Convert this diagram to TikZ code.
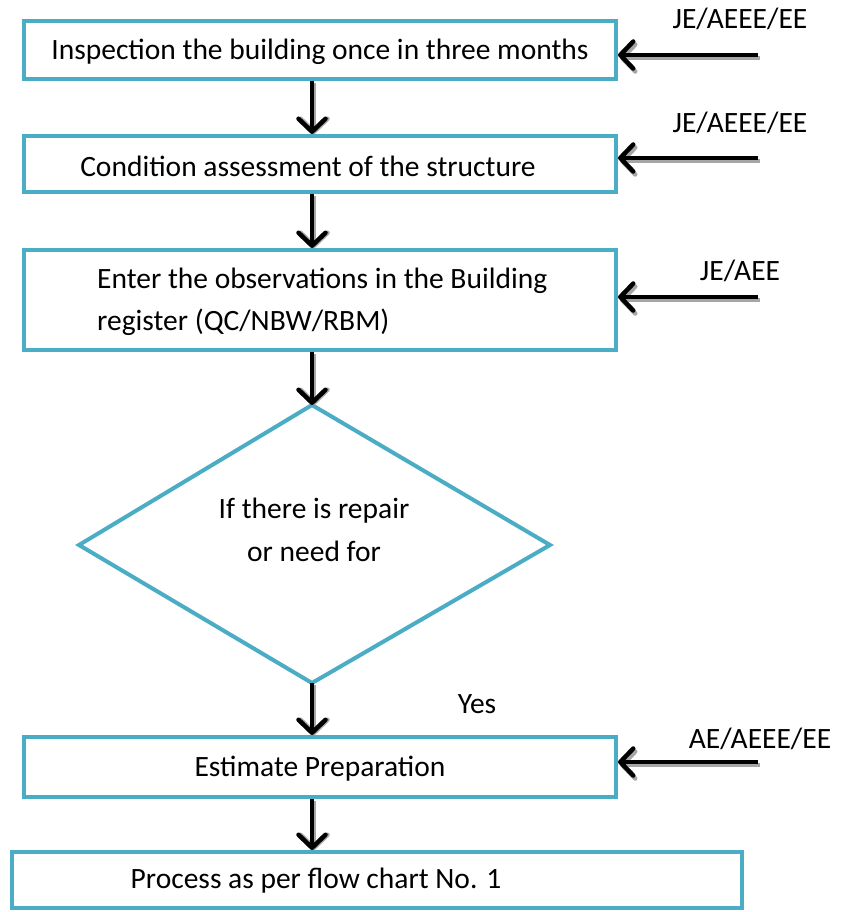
\documentclass[tikz,border=0pt]{standalone}
\usepackage{fontspec}
\setmainfont{Carlito}
\usetikzlibrary{arrows.meta,calc}
\definecolor{boxblue}{HTML}{4BACC6}
\begin{document}
\begin{tikzpicture}[x=1pt,y=-1pt,
  flowbox/.style={draw=boxblue,line width=4pt,rectangle,inner sep=0pt},
  lbl/.style={inner sep=0pt,font=\fontsize{29.5}{35}\selectfont},
  twoline/.style={lbl,font=\fontsize{29.5}{42.5}\selectfont},
  flowarrow/.style={line width=4.5pt,-{Straight Barb[length=13pt,width=27pt,line cap=round,line join=round]}},
  arrowshadow/.style={flowarrow,draw=black!35}]
\useasboundingbox[fill=white] (0,0) rectangle (855,912);

% process boxes
\node[flowbox,minimum width=592pt,minimum height=58pt] (b1) at (320,50) {};
\node[flowbox,minimum width=592pt,minimum height=56pt] (b2) at (320,164) {};
\node[flowbox,minimum width=592pt,minimum height=100pt] (b3) at (320,300) {};
\node[flowbox,minimum width=592pt,minimum height=60pt] (b4) at (320,767) {};
\node[flowbox,minimum width=730pt,minimum height=56pt] (b5) at (377,880) {};

% decision diamond
\coordinate (dt) at (312,405);
\coordinate (dl) at (79,545);
\coordinate (dr) at (550,545);
\coordinate (db) at (312,683);
\draw[draw=boxblue,line width=4pt,line join=miter] (dt) -- (dr) -- (db) -- (dl) -- cycle;

% texts
\node[lbl] (t1) at (320,52) {Inspection the building once in three months};
\node[lbl] (t2) at (308,166) {Condition assessment of the structure};
\node[twoline,align=left,anchor=west] (t3) at (97,302) {Enter the observations in the Building\\register (QC/NBW/RBM)};
\node[twoline,align=center] (t4) at (314,530) {If there is repair\\or need for};
\node[lbl] (t5) at (320,769) {Estimate Preparation};
\node[lbl] (t6) at (316,881) {Process as per flow chart No. 1};
\node[lbl] (yes) at (477,704) {Yes};

% responsible staff labels and the start of their arrows
\node[lbl] (r1) at (740,19) {JE/AEEE/EE};
\node[lbl] (r2) at (740,123) {JE/AEEE/EE};
\node[lbl] (r3) at (740,271) {JE/AEE};
\node[lbl] (r4) at (760,739) {AE/AEEE/EE};
\coordinate (s1) at (758,55);
\coordinate (s2) at (758,158);
\coordinate (s3) at (758,297);
\coordinate (s4) at (758,762);

% vertical flow arrows, each with a soft shadow
\foreach \a/\b in {b1/b2, b2/b3, b3/dt, db/b4, b4/b5}{
  \draw[arrowshadow] ($(\a.south -| 312,0)+(2,2)$) -- ($(\b.north -| 312,0)+(2,0)$);
  \draw[flowarrow] (\a.south -| 312,0) -- (\b.north -| 312,0);
}

% side arrows from the responsible staff
\foreach \s/\b in {s1/b1, s2/b2, s3/b3, s4/b4}{
  \draw[arrowshadow] ($(\s)+(2,3)$) -- ($(\b.east |- \s)+(2,3)$);
  \draw[flowarrow] (\s) -- (\b.east |- \s);
}
\end{tikzpicture}
\end{document}
